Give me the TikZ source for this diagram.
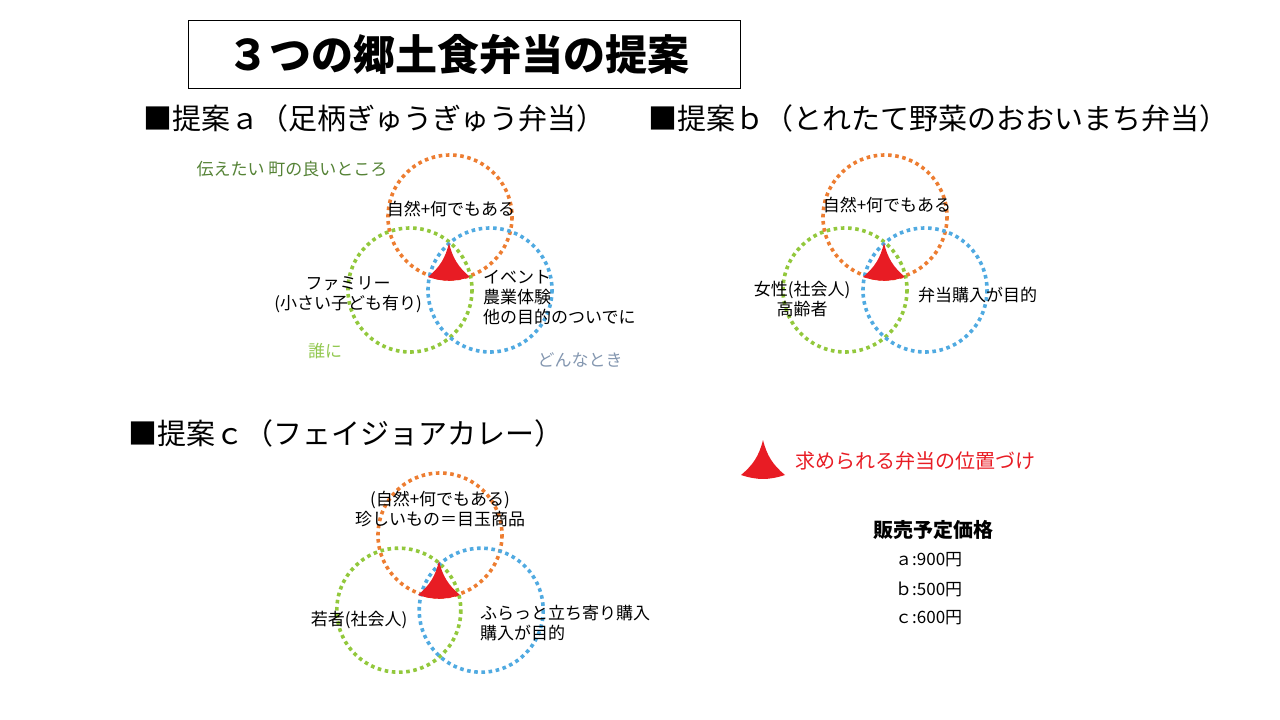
\documentclass[tikz,border=0pt]{standalone}
\usepackage{fontspec}
\setmainfont{Noto Sans CJK JP}
\definecolor{ringorange}{RGB}{237,125,49}
\definecolor{ringgreen}{RGB}{146,200,60}
\definecolor{ringblue}{RGB}{80,170,225}
\definecolor{markred}{RGB}{232,28,36}
\definecolor{notegreen}{RGB}{84,130,53}
\definecolor{notelime}{RGB}{146,200,80}
\definecolor{notegray}{RGB}{132,151,176}
\tikzset{
  ring/.style={line width=3.6pt, dash pattern=on 3.6pt off 3.6pt},
  lbl/.style={font=\fontsize{17}{20}\selectfont, align=center, inner sep=0pt},
  head/.style={font=\fontsize{29}{32}\selectfont, anchor=west, inner sep=0pt},
}
% three rings and the red mark
\newcommand{\venn}[4]{%
  \draw[ring, ringorange] (#1,#2) circle (#3);
  \draw[ring, ringgreen] (#1-40*#4,#2+73*#4) circle (#3);
  \draw[ring, ringblue] (#1+40*#4,#2+73*#4) circle (#3);
  \fill[markred] (#1-1,#2+26) to[bend left=18] (#1-22,#2+60)
    to[bend right=18] (#1+20,#2+60) to[bend left=18] cycle;}
\begin{document}
\begin{tikzpicture}[x=1pt,y=-1pt]
  \useasboundingbox (0,0) rectangle (1280,720);

  % 表題
  \draw[line width=0.8pt] (188,20) rectangle (740,88);
  \node[font=\fontsize{42}{44}\selectfont\bfseries] (title) at (458,54) {３つの郷土食弁当の提案};

  % 見出し
  \node[head] (headA) at (143,118) {■提案ａ（足柄ぎゅうぎゅう弁当）};
  \node[head] (headB) at (648,118) {■提案ｂ（とれたて野菜のおおいまち弁当）};
  \node[head] (headC) at (128,433) {■提案ｃ（フェイジョアカレー）};

  % 提案ａ
  \venn{450}{217}{62}{1}
  \node[lbl, text=notegreen] (tellA) at (292,169) {伝えたい 町の良いところ};
  \node[lbl] (natA) at (451,209) {自然+何でもある};
  \node[lbl, anchor=north east] (famA) at (422,276) {ファミリー\\(小さい子ども有り)};
  \node[lbl, anchor=north west, align=left] (evtA) at (483,270) {イベント\\農業体験\\他の目的のついでに};
  \node[lbl, text=notelime] (whoA) at (325,351) {誰に};
  \node[lbl, text=notegray] (whenA) at (580,360) {どんなとき};

  % 提案ｂ
  \venn{885}{217}{62}{1}
  \node[lbl] (natB) at (887,205) {自然+何でもある};
  \node[lbl] (femB) at (802,299) {女性(社会人)\\高齢者};
  \node[lbl, anchor=west] (buyB) at (918,295) {弁当購入が目的};

  % 提案ｃ
  \venn{440}{535}{62}{1.03}
  \node[lbl] (natC) at (440,509) {(自然+何でもある)\\珍しいもの＝目玉商品};
  \node[lbl] (youC) at (359,620) {若者(社会人)};
  \node[lbl, anchor=west, align=left] (dropC) at (480,623) {ふらっと立ち寄り購入\\購入が目的};

  % 凡例
  \fill[markred] (763,440) to[bend left=18] (741,475)
    to[bend right=18] (785,475) to[bend left=18] cycle;
  \node[lbl, anchor=west, text=markred, font=\fontsize{20}{22}\selectfont] (legend) at (795,461) {求められる弁当の位置づけ};

  % 価格
  \node[lbl, font=\fontsize{20}{22}\selectfont\bfseries] (price) at (933,530) {販売予定価格};
  \node[lbl, anchor=west] (pa) at (895,560) {ａ:900円};
  \node[lbl, anchor=west] (pb) at (895,589) {ｂ:500円};
  \node[lbl, anchor=west] (pc) at (895,618) {ｃ:600円};
\end{tikzpicture}
\end{document}
